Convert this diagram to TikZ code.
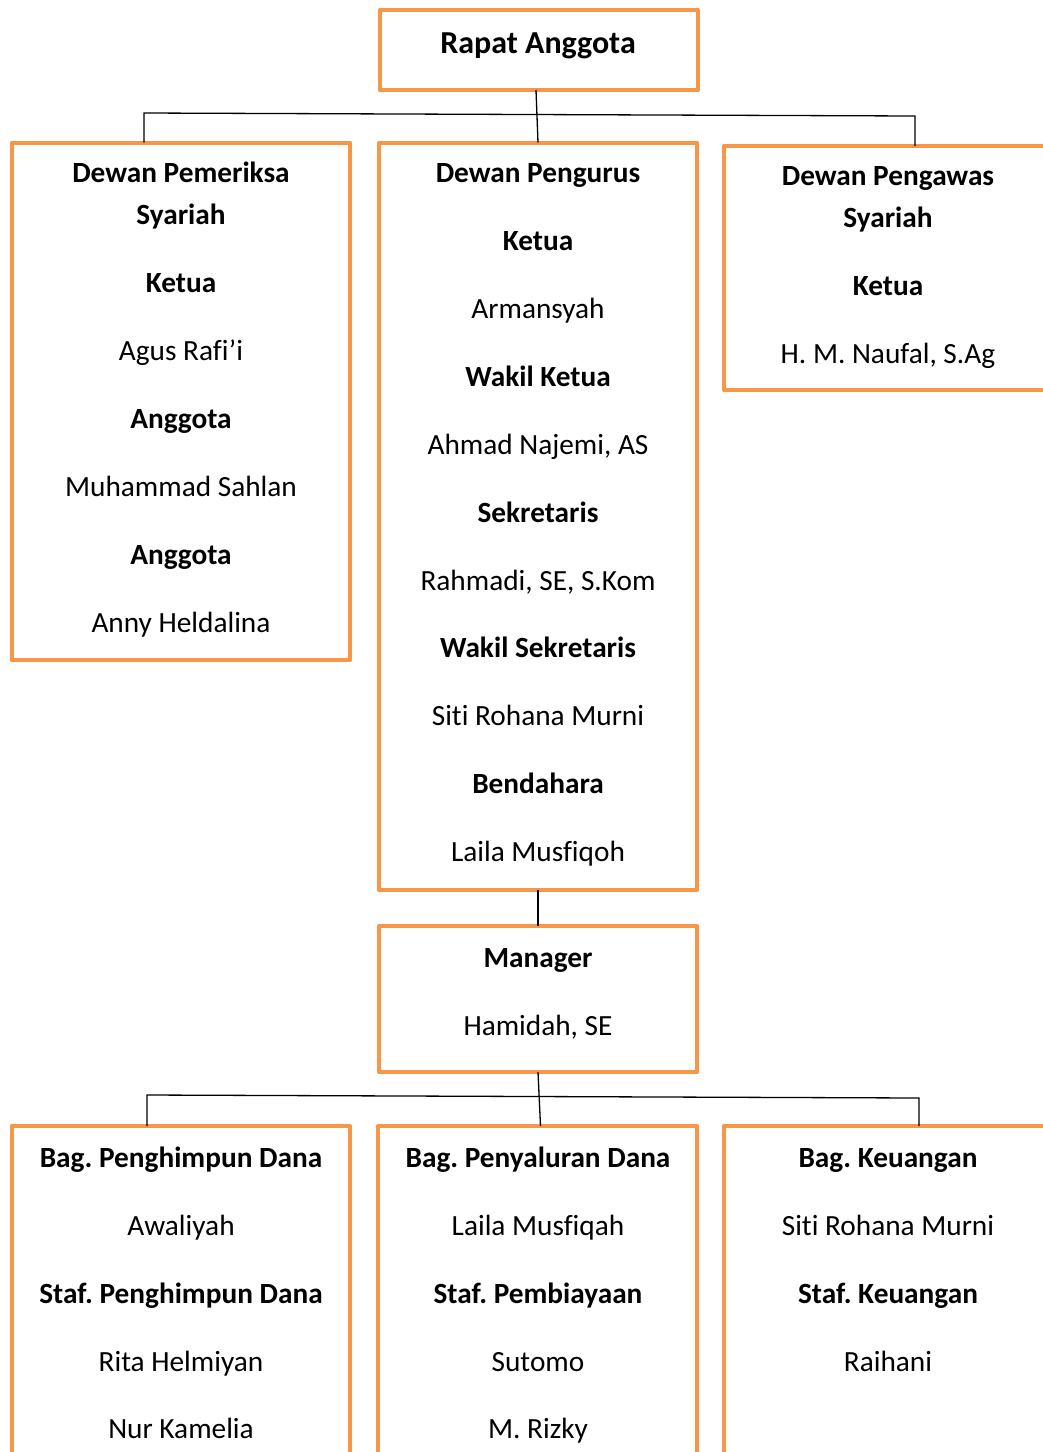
\documentclass[tikz,border=0pt]{standalone}
\usepackage{fontspec}
\setmainfont{Carlito}[Ligatures={NoCommon}]
\definecolor{borange}{HTML}{F79646}
\begin{document}
\frenchspacing
\begin{tikzpicture}[x=1pt,y=-1pt,
 obox/.style={draw=borange, line width=4pt, line join=round, rectangle, inner sep=0pt, outer sep=0pt},
 conn/.style={draw=black, line width=1.3pt},
 lbl/.style={anchor=base, inner sep=0pt, font=\fontsize{29.3}{34}\selectfont},
 hd/.style={anchor=base, inner sep=0pt, font=\fontsize{29.3}{34}\selectfont\bfseries},
 title/.style={anchor=base, inner sep=0pt, font=\fontsize{32}{38}\selectfont\bfseries},
]
\useasboundingbox (0,0) rectangle (1043,1452);
\clip (0,0) rectangle (1043,1452);
\fill[white] (0,0) rectangle (1043,1452);

% boxes
\node[obox, minimum width=318, minimum height=80] (rapat) at (539,50) {};
\node[obox, minimum width=338, minimum height=517.5] (pemeriksa) at (181,401.25) {};
\node[obox, minimum width=318, minimum height=747.5] (pengurus) at (538,516.25) {};
\node[obox, minimum width=376, minimum height=244] (pengawas) at (912,268) {};
\node[obox, minimum width=318, minimum height=146] (manager) at (538,999) {};
\node[obox, minimum width=338, minimum height=374] (bag1) at (181,1313) {};
\node[obox, minimum width=319, minimum height=374] (bag2) at (537.5,1313) {};
\node[obox, minimum width=376, minimum height=374] (bag3) at (912,1313) {};

% connectors
\coordinate (bl) at (144,113);
\coordinate (br) at (915,116);
\draw[conn] ([xshift=-3]rapat.south) -- (pengurus.north);
\draw[conn] (pemeriksa.north -| bl) -- (bl) -- (br) -- (pengawas.north -| br);
\draw[conn] (pengurus.south) -- (manager.north);
\coordinate (ml) at (147,1095);
\coordinate (mr) at (919,1098);
\draw[conn] (manager.south) -- ([xshift=3]bag2.north);
\draw[conn] (bag1.north -| ml) -- (ml) -- (mr) -- (bag3.north -| mr);

% texts
\node[title] (t0) at (538,53) {Rapat Anggota};

\node[hd] (a1) at (181,182) {Dewan Pemeriksa};
\node[hd] (a2) at (181,224) {Syariah};
\node[hd] (a3) at (181,292) {Ketua};
\node[lbl] (a4) at (181,360) {Agus Rafi’i};
\node[hd] (a5) at (181,428) {Anggota};
\node[lbl] (a6) at (181,496) {Muhammad Sahlan};
\node[hd] (a7) at (181,564) {Anggota};
\node[lbl] (a8) at (181,632) {Anny Heldalina};

\node[hd] (b1) at (538,182) {Dewan Pengurus};
\node[hd] (b2) at (538,250) {Ketua};
\node[lbl] (b3) at (538,318) {Armansyah};
\node[hd] (b4) at (538,386) {Wakil Ketua};
\node[lbl] (b5) at (538,454) {Ahmad Najemi, AS};
\node[hd] (b6) at (538,522) {Sekretaris};
\node[lbl] (b7) at (538,590) {Rahmadi, SE, S.Kom};
\node[hd] (b8) at (538,657.5) {Wakil Sekretaris};
\node[lbl] (b9) at (538,725.5) {Siti Rohana Murni};
\node[hd] (b10) at (538,793.5) {Bendahara};
\node[lbl] (b11) at (538,861.5) {Laila Musfiqoh};

\node[hd] (c1) at (888,185.5) {Dewan Pengawas};
\node[hd] (c2) at (888,227) {Syariah};
\node[hd] (c3) at (888,295) {Ketua};
\node[lbl] (c4) at (888,363) {H. M. Naufal, S.Ag};

\node[hd] (m1) at (538,967) {Manager};
\node[lbl] (m2) at (538,1035) {Hamidah, SE};

\node[hd] (d1) at (181,1167) {Bag. Penghimpun Dana};
\node[lbl] (d2) at (181,1235) {Awaliyah};
\node[hd] (d3) at (181,1303) {Staf. Penghimpun Dana};
\node[lbl] (d4) at (181,1371) {Rita Helmiyan};
\node[lbl] (d5) at (181,1438) {Nur Kamelia};

\node[hd] (e1) at (538,1167) {Bag. Penyaluran Dana};
\node[lbl] (e2) at (538,1235) {Laila Musfiqah};
\node[hd] (e3) at (538,1303) {Staf. Pembiayaan};
\node[lbl] (e4) at (538,1371) {Sutomo};
\node[lbl] (e5) at (538,1438) {M. Rizky};

\node[hd] (f1) at (888,1167) {Bag. Keuangan};
\node[lbl] (f2) at (888,1235) {Siti Rohana Murni};
\node[hd] (f3) at (888,1303) {Staf. Keuangan};
\node[lbl] (f4) at (888,1371) {Raihani};
\end{tikzpicture}
\end{document}
